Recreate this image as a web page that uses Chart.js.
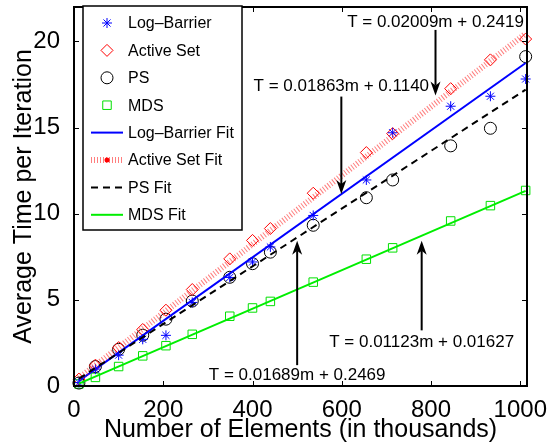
<!DOCTYPE html>
<html>
<head>
<meta charset="utf-8">
<script src="https://cdn.jsdelivr.net/npm/chart.js@4.4.1/dist/chart.umd.min.js"></script>
<style>
    html, body { margin: 0; padding: 0; background: #fff; }
</style>
</head>
<body>
<canvas id="chartCanvas" width="555" height="446"></canvas>
<script>
// Problem size (thousands of elements) and measured time per iteration
const elements = [11, 48, 100, 154, 206, 265, 349, 400, 440, 536, 655, 714, 844, 933, 1012];
const logBarrier = [0.2, 0.98, 1.79, 2.71, 2.94, 4.85, 6.3, 7.2, 8.07, 9.9, 11.96, 14.7, 16.24, 16.82, 17.82];
const activeSet = [0.4, 1.21, 2.23, 3.28, 4.4, 5.6, 7.38, 8.45, 9.14, 11.19, 13.55, 14.65, 17.26, 18.93, 20.14];
const ps = [0.17, 1.13, 2.13, 2.95, 3.88, 4.93, 6.31, 7.1, 7.77, 9.33, 10.93, 11.96, 13.94, 14.96, 19.12];
const mds = [0.12, 0.5, 1.13, 1.75, 2.34, 3.0, 4.05, 4.53, 4.91, 6.03, 7.36, 8.02, 9.58, 10.47, 11.35];

// Linear fits, end points only
const fitEnds = [11, 1012];
const logBarrierFit = [0.3, 18.75];
const activeSetFit = [0.46, 20.45];
const psFit = [0.43, 17.2];
const mdsFit = [0.14, 11.33];

const xTicks = [0, 200, 400, 600, 800, 1000];
const yTicks = [0, 5, 10, 15, 20];

// Fit equation notes: text, x, text y, arrow tail y, arrow tip y
const noteText = ['T = 0.02009m + 0.2419', 'T = 0.01863m + 0.1140', 'T = 0.01689m + 0.2469', 'T = 0.01123m + 0.01627'];
const noteX = [810, 599, 500, 779];
const noteTextY = [21.13, 17.38, 0.635, 2.56];
const noteTail = [20.67, 16.8, 1.21, 3.23];
const noteTip = [16.86, 11.14, 8.43, 8.43];

const FONT = "'Liberation Sans', Arial, Helvetica, sans-serif";

function pts(xs, ys) {
    return xs.map((x, i) => ({ x: x, y: ys[i] }));
}

function markerSet(label, ys, style, radius, color) {
    return {
        label: label,
        data: pts(elements, ys),
        showLine: false,
        pointStyle: style,
        pointRadius: radius,
        pointBorderColor: color,
        pointBackgroundColor: 'rgba(0,0,0,0)',
        pointBorderWidth: 1,
        clip: 10,
        order: 10
    };
}

function fitSet(label, ys, color, width, dash, ord) {
    return {
        label: label,
        data: pts(fitEnds, ys),
        showLine: true,
        pointRadius: 0,
        borderColor: color,
        borderWidth: width,
        borderDash: dash,
        clip: 4,
        order: ord
    };
}

const datasets = [
    markerSet('Log–Barrier', logBarrier, 'star', 5, '#0000ff'),
    markerSet('Active Set', activeSet, 'rectRot', 6, '#ff0000'),
    markerSet('PS', ps, 'circle', 6, '#000000'),
    markerSet('MDS', mds, 'rect', 6, '#00e000'),
    fitSet('Log–Barrier Fit', logBarrierFit, '#0000ff', 2, [], 4),
    fitSet('Active Set Fit', activeSetFit, 'rgba(255,40,40,0.6)', 6, [1, 2], 3),
    fitSet('PS Fit', psFit, '#000000', 2, [7, 5], 2),
    fitSet('MDS Fit', mdsFit, '#00ee00', 2, [], 1)
];

// Box, inward ticks, legend and notes
const decorPlugin = {
    id: 'decor',
    afterDatasetsDraw(chart) {
        const ctx = chart.ctx;
        const a = chart.chartArea;
        const xs = chart.scales.x, ys = chart.scales.y;
        ctx.save();

        // axes box with ticks on all sides
        ctx.strokeStyle = '#000';
        ctx.lineWidth = 2;
        ctx.setLineDash([]);
        ctx.strokeRect(a.left, a.top, a.right - a.left, a.bottom - a.top);
        ctx.lineWidth = 1;
        ctx.beginPath();
        xTicks.forEach(v => {
            const px = Math.round(xs.getPixelForValue(v)) + 0.5;
            ctx.moveTo(px, a.bottom); ctx.lineTo(px, a.bottom - 5);
            ctx.moveTo(px, a.top); ctx.lineTo(px, a.top + 5);
        });
        yTicks.forEach(v => {
            const py = Math.round(ys.getPixelForValue(v)) + 0.5;
            ctx.moveTo(a.left, py); ctx.lineTo(a.left + 5, py);
            ctx.moveTo(a.right, py); ctx.lineTo(a.right - 5, py);
        });
        ctx.stroke();

        // notes with arrows
        ctx.font = '17px ' + FONT;
        ctx.fillStyle = '#000';
        ctx.textAlign = 'center';
        ctx.textBaseline = 'middle';
        noteText.forEach((t, i) => {
            const px = xs.getPixelForValue(noteX[i]);
            ctx.fillText(t, px, ys.getPixelForValue(noteTextY[i]));
            const y0 = ys.getPixelForValue(noteTail[i]);
            const y1 = ys.getPixelForValue(noteTip[i]);
            const dir = y1 > y0 ? 1 : -1;
            ctx.lineWidth = 2;
            ctx.beginPath();
            ctx.moveTo(px, y0);
            ctx.lineTo(px, y1 - dir * 10);
            ctx.stroke();
            ctx.beginPath();
            ctx.moveTo(px, y1);
            ctx.lineTo(px - 5, y1 - dir * 14);
            ctx.lineTo(px, y1 - dir * 10);
            ctx.lineTo(px + 5, y1 - dir * 14);
            ctx.closePath();
            ctx.fill();
        });

        // legend
        const lx = 83, ly = 6, lw = 159, lh = 224;
        ctx.fillStyle = '#fff';
        ctx.fillRect(lx, ly, lw, lh);
        ctx.strokeStyle = '#000';
        ctx.lineWidth = 1.5;
        ctx.strokeRect(lx, ly, lw, lh);
        ctx.font = '16px ' + FONT;
        ctx.textAlign = 'left';
        chart.data.datasets.forEach((ds, i) => {
            const cy = 23 + i * 27.4;
            if (ds.showLine) {
                ctx.strokeStyle = ds.borderColor;
                ctx.lineWidth = ds.borderWidth;
                ctx.setLineDash(ds.borderDash);
                ctx.beginPath();
                ctx.moveTo(91, cy);
                ctx.lineTo(123, cy);
                ctx.stroke();
                ctx.setLineDash([]);
                if (ds.label === 'Active Set Fit') {
                    ctx.fillStyle = '#ff0000';
                    ctx.beginPath();
                    ctx.arc(107, cy, 2.5, 0, Math.PI * 2);
                    ctx.fill();
                }
            } else {
                ctx.strokeStyle = ds.pointBorderColor;
                ctx.fillStyle = 'rgba(0,0,0,0)';
                ctx.lineWidth = 1;
                Chart.helpers.drawPoint(ctx, {
                    pointStyle: ds.pointStyle,
                    radius: ds.pointRadius,
                    borderWidth: 1,
                    rotation: 0
                }, 107, cy);
            }
            ctx.fillStyle = '#000';
            ctx.fillText(ds.label, 128, cy + 1);
        });

        ctx.restore();
    }
};

const ctx = document.getElementById('chartCanvas').getContext('2d');
const chartInstance = new Chart(ctx, {
    type: 'scatter',
    data: { datasets: datasets },
    options: {
        responsive: false,
        animation: false,
        layout: { padding: { top: 5, right: 28, left: 0, bottom: 0 } },
        plugins: {
            legend: { display: false },
            tooltip: { enabled: false }
        },
        scales: {
            x: {
                type: 'linear',
                min: 0,
                max: 1015,
                grid: { display: false },
                border: { display: false },
                afterBuildTicks: (scale) => { scale.ticks = xTicks.map(v => ({ value: v })); },
                afterFit: (scale) => { scale.height = 60; scale.paddingLeft = 0; scale.paddingRight = 0; },
                ticks: {
                    color: '#000',
                    font: { family: FONT, size: 24 },
                    padding: 2,
                    maxRotation: 0,
                    callback: (v) => String(v)
                },
                title: {
                    display: true,
                    text: 'Number of Elements (in thousands)',
                    color: '#000',
                    font: { family: FONT, size: 25, lineHeight: 1 },
                    padding: { top: 0, bottom: 3.5 }
                }
            },
            y: {
                type: 'linear',
                min: 0,
                max: 22,
                grid: { display: false },
                border: { display: false },
                afterBuildTicks: (scale) => { scale.ticks = yTicks.map(v => ({ value: v })); },
                afterFit: (scale) => { scale.width = 74; scale.paddingTop = 0; scale.paddingBottom = 0; },
                ticks: { color: '#000', font: { family: FONT, size: 24 }, padding: 6 },
                title: {
                    display: true,
                    text: 'Average Time per Iteration',
                    color: '#000',
                    font: { family: FONT, size: 25, lineHeight: 1 },
                    padding: { top: 11.5, bottom: 0 }
                }
            }
        }
    },
    plugins: [decorPlugin]
});
</script>
</body>
</html>
